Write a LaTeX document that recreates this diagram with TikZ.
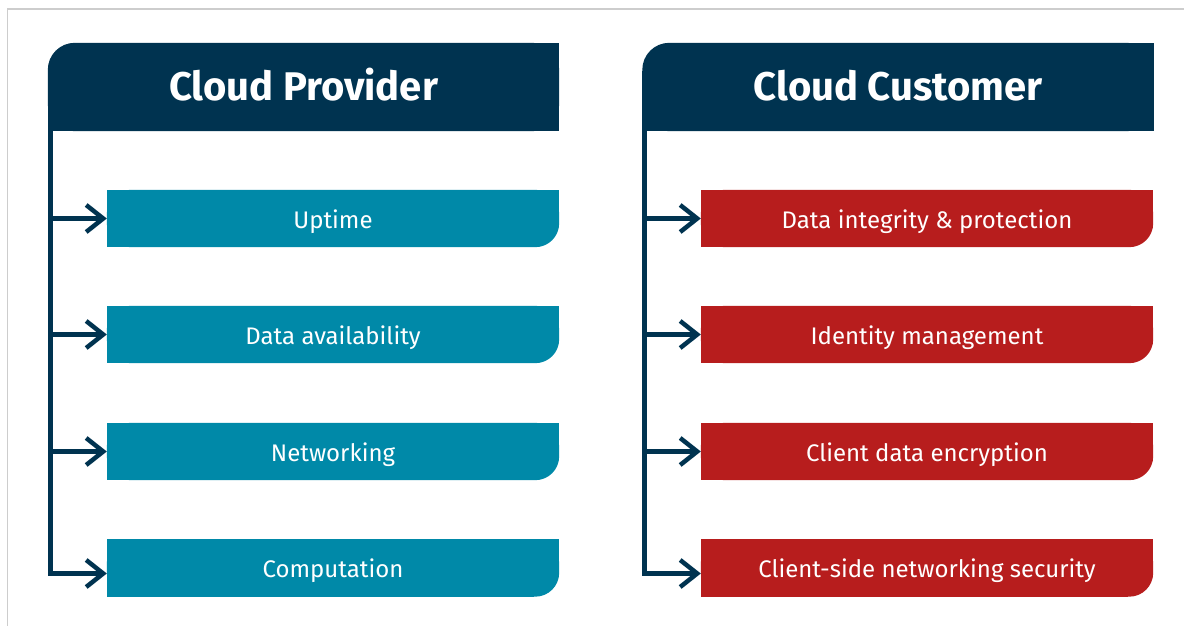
\documentclass[tikz,border=0pt]{standalone}
\usepackage{fontspec}
\setmainfont{Fira Sans}
\usetikzlibrary{arrows.meta,backgrounds}
\definecolor{cpNavy}{RGB}{0,51,80}
\definecolor{cpTeal}{RGB}{0,137,168}
\definecolor{cpRed}{RGB}{183,29,29}
\definecolor{frameGray}{RGB}{205,205,205}
\tikzset{
  header/.style={minimum width=511pt, minimum height=88pt, inner sep=0pt, text=white,
    text height=34pt, text depth=8pt,
    font=\bfseries\fontsize{40}{48}\selectfont},
  itembox/.style={minimum width=452pt, minimum height=57pt, inner sep=0pt, text=white,
    text height=24pt, text depth=5pt,
    font=\fontsize{24}{28}\selectfont},
  trunk/.style={draw=cpNavy, line width=4.5pt, line join=miter, line cap=butt},
  arr/.style={-{Straight Barb[length=17pt,width=27pt,sharp]}},
}
\begin{document}
\begin{tikzpicture}[x=1pt,y=-1pt]
\useasboundingbox (0,0) rectangle (1184,626);
\draw[frameGray, line width=1.5pt] (7.5,626) -- (7.5,9) -- (1184,9);

% headers
\node[header] (hL) at (303.5,87) {Cloud Provider};
\node[header] (hR) at (898,87) {Cloud Customer};

% provider items
\node[itembox] (p1) at (333,218.5) {Uptime};
\node[itembox] (p2) at (333,334.5) {Data availability};
\node[itembox] (p3) at (333,451.5) {Networking};
\node[itembox] (p4) at (333,568) {Computation};

% customer items
\node[itembox] (c1) at (927,218.5) {Data integrity \& protection};
\node[itembox] (c2) at (927,334.5) {Identity management};
\node[itembox] (c3) at (927,451.5) {Client data encryption};
\node[itembox] (c4) at (927,568) {Client-side networking security};

\begin{scope}[on background layer]
  \foreach \h in {hL,hR}{
    \fill[cpNavy, rounded corners=27pt] (\h.north west) rectangle (\h.south east);
    \fill[cpNavy] ([xshift=28pt]\h.north west) rectangle (\h.south east);
    \fill[cpNavy] (\h.south west) rectangle ([yshift=-28pt]\h.north east);
  }
  \foreach \b/\c in {p1/cpTeal,p2/cpTeal,p3/cpTeal,p4/cpTeal,c1/cpRed,c2/cpRed,c3/cpRed,c4/cpRed}{
    \fill[\c, rounded corners=24pt] (\b.north west) rectangle (\b.south east);
    \fill[\c] (\b.north west) rectangle ([xshift=-25pt]\b.south east);
    \fill[\c] (\b.north west) rectangle ([yshift=25pt]\b.south east);
  }
\end{scope}

% trunks
\coordinate (tL) at (50.5,131);
\coordinate (tR) at (644.5,131);
\draw[trunk, arr] (tL) |- ([yshift=-5.5pt]p4.west);
\draw[trunk, arr] (tR) |- ([yshift=-5.5pt]c4.west);
\foreach \b in {p1,p2,p3}{
  \draw[trunk, arr] (tL |- \b.west) -- (\b.west);
}
\foreach \b in {c1,c2,c3}{
  \draw[trunk, arr] (tR |- \b.west) -- (\b.west);
}
\end{tikzpicture}
\end{document}
